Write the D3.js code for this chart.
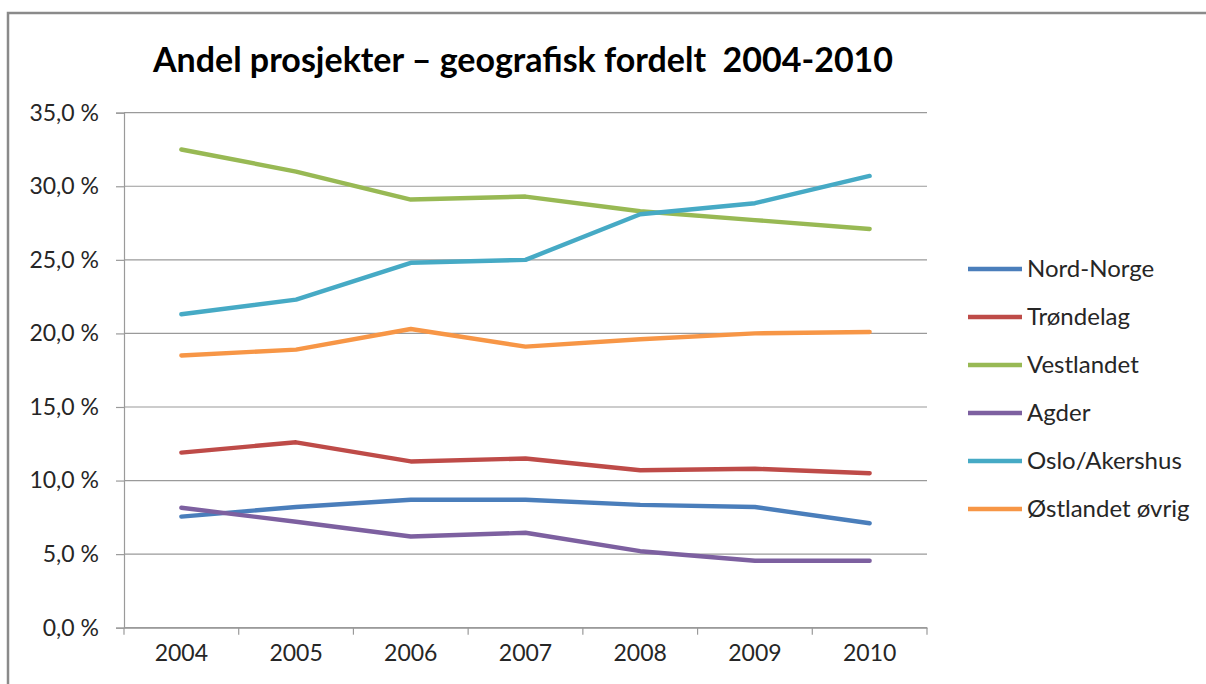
<!DOCTYPE html>
<html>
<head>
<meta charset="utf-8">
<script src="https://cdn.jsdelivr.net/npm/d3@7"></script>
<style>
  body { margin: 0; background: #fff; }
  svg { display: block; }
</style>
</head>
<body>
<script>
// data
const years = ["2004", "2005", "2006", "2007", "2008", "2009", "2010"];
const nordNorge  = [7.55, 8.2, 8.7, 8.7, 8.35, 8.2, 7.1];
const trondelag  = [11.9, 12.6, 11.3, 11.5, 10.7, 10.8, 10.5];
const vestlandet = [32.5, 31.0, 29.1, 29.3, 28.3, 27.7, 27.1];
const agder      = [8.15, 7.2, 6.2, 6.45, 5.2, 4.55, 4.55];
const osloAkershus = [21.3, 22.3, 24.8, 25.0, 28.1, 28.85, 30.7];
const ostlandetOvrig = [18.5, 18.9, 20.3, 19.1, 19.6, 20.0, 20.1];
const seriesNames = ["Nord-Norge", "Trøndelag", "Vestlandet", "Agder", "Oslo/Akershus", "Østlandet øvrig"];
const yTicks = [0, 5, 10, 15, 20, 25, 30, 35];

const seriesValues = [nordNorge, trondelag, vestlandet, agder, osloAkershus, ostlandetOvrig];
const colors = ["#4a7ebb", "#be4b48", "#98b954", "#7d60a0", "#46aac5", "#f79646"];

let canvasW = 1206;
let canvasH = 684;
let font = "Lato, 'Open Sans', sans-serif";
let textCol = "#262626";
let gridCol = "#9a9a9a";

let plotL = 124, plotR = 927, plotT = 112.7, plotB = 627.7;

let svg = d3.select("body").append("svg")
  .attr("width", canvasW)
  .attr("height", canvasH);

// outer chart border (runs off the right and bottom edge)
svg.append("rect")
  .attr("x", 8).attr("y", 13)
  .attr("width", 1300).attr("height", 800)
  .attr("fill", "white")
  .attr("stroke", "#8a8a8a")
  .attr("stroke-width", 2.5);

let x = d3.scaleBand().domain(years).range([plotL, plotR]);
let y = d3.scaleLinear().domain([0, 35]).range([plotB, plotT]);

let fmt = v => d3.format(".1f")(v).replace(".", ",") + " %";

// gridlines
svg.append("g")
  .selectAll("line")
  .data(yTicks)
  .enter()
  .append("line")
    .attr("x1", plotL).attr("x2", plotR)
    .attr("y1", d => y(d)).attr("y2", d => y(d))
    .attr("stroke", gridCol)
    .attr("stroke-width", 1.2);

// y axis
let yAxis = svg.append("g")
  .attr("transform", `translate(${plotL},0)`)
  .call(d3.axisLeft(y).tickValues(yTicks).tickSize(8).tickPadding(17).tickFormat(fmt));
yAxis.select(".domain").attr("stroke", gridCol).attr("stroke-width", 1.2);
yAxis.selectAll(".tick line").attr("stroke", gridCol).attr("stroke-width", 1.2);
yAxis.selectAll("text")
  .attr("font-family", font)
  .attr("font-size", "23px")
  .attr("fill", textCol);

// x axis
let xAxis = svg.append("g")
  .attr("transform", `translate(0,${plotB})`)
  .call(d3.axisBottom(x).tickSize(0).tickPadding(17));
xAxis.select(".domain").attr("stroke", gridCol).attr("stroke-width", 1.2);
xAxis.selectAll("text")
  .attr("font-family", font)
  .attr("font-size", "23px")
  .attr("fill", textCol);

// tick marks between categories
let bounds = years.map(d => x(d)).concat([x(years[years.length - 1]) + x.bandwidth()]);
svg.append("g")
  .selectAll("line")
  .data(bounds)
  .enter()
  .append("line")
    .attr("x1", d => d).attr("x2", d => d)
    .attr("y1", plotB).attr("y2", plotB + 7)
    .attr("stroke", gridCol)
    .attr("stroke-width", 1.2);

// lines
let line = d3.line()
  .x((d, i) => x(years[i]) + x.bandwidth() / 2)
  .y(d => y(d));

svg.append("g")
  .selectAll("path")
  .data(seriesValues)
  .enter()
  .append("path")
    .attr("d", d => line(d))
    .attr("fill", "none")
    .attr("stroke", (d, i) => colors[i])
    .attr("stroke-width", 4.4)
    .attr("stroke-linejoin", "round")
    .attr("stroke-linecap", "round");

// title
svg.append("text")
  .attr("x", 523)
  .attr("y", 72)
  .attr("text-anchor", "middle")
  .attr("font-family", font)
  .attr("font-weight", "bold")
  .attr("font-size", "34px")
  .attr("fill", "black")
  .attr("xml:space", "preserve")
  .text("Andel prosjekter – geografisk fordelt  2004-2010");

// legend
let legend = svg.append("g")
  .selectAll("g")
  .data(seriesNames)
  .enter()
  .append("g")
    .attr("transform", (d, i) => `translate(968,${269 + i * 48})`);

legend.append("line")
  .attr("x1", 0).attr("x2", 54)
  .attr("y1", 0).attr("y2", 0)
  .attr("stroke", (d, i) => colors[i])
  .attr("stroke-width", 4.4);

legend.append("text")
  .attr("x", 59)
  .attr("y", 8)
  .attr("font-family", font)
  .attr("font-size", "24px")
  .attr("fill", textCol)
  .text(d => d);
</script>
</body>
</html>
